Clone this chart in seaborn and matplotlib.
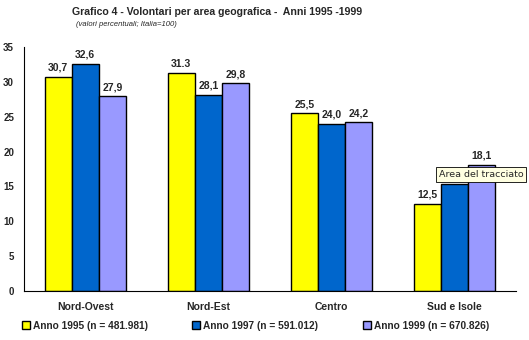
import matplotlib
matplotlib.use("Agg")
import matplotlib.pyplot as plt
import seaborn as sns
import pandas as pd
import numpy as np

categories = ["Nord-Ovest", "Nord-Est", "Centro", "Sud e Isole"]
series_names = ["Anno 1995 (n = 481.981)", "Anno 1997 (n = 591.012)", "Anno 1999 (n = 670.826)"]
v1995 = [30.7, 31.3, 25.5, 12.5]
v1997 = [32.6, 28.1, 24.0, 15.3]
v1999 = [27.9, 29.8, 24.2, 18.1]
labels1995 = ["30,7", "31.3", "25,5", "12,5"]
labels1997 = ["32,6", "28,1", "24,0", "15,3"]
labels1999 = ["27,9", "29,8", "24,2", "18,1"]
colors = ["#FFFF00", "#0066CC", "#9999FF"]

rows = []
for name, vals in zip(series_names, [v1995, v1997, v1999]):
    for c, v in zip(categories, vals):
        rows.append({"area": c, "serie": name, "valore": v})
df = pd.DataFrame(rows)

sns.set_style("white")
plt.rcParams["font.family"] = ["Liberation Sans", "DejaVu Sans"]

fig = plt.figure(figsize=(5.29, 3.40), dpi=100)
ax = fig.add_axes([0.045, 0.144, 0.93, 0.718])

sns.barplot(data=df, x="area", y="valore", hue="serie", order=categories,
            hue_order=series_names, palette=colors, width=0.66, gap=0,
            edgecolor="black", linewidth=1.0, saturation=1, ax=ax, legend=True)

ax.set_ylim(0, 35)
ax.set_xlim(-0.5, 3.5)
ax.set_yticks(np.arange(0, 36, 5))
ax.set_yticklabels([str(t) for t in range(0, 36, 5)], fontsize=7, fontweight="bold")
ax.set_xticks(range(4))
ax.set_xticklabels(categories, fontsize=7.5, fontweight="bold")
ax.set_xticks(np.arange(-0.5, 4.0, 1.0), minor=True)
ax.tick_params(axis="x", which="major", length=0, pad=8)
ax.tick_params(axis="x", which="minor", length=4, width=0.8, direction="out", color="black")
ax.tick_params(axis="y", length=4, width=0.8, direction="out", color="black", pad=3)
ax.set_xlabel("")
ax.set_ylabel("")
for s in ["top", "right"]:
    ax.spines[s].set_visible(False)
for s in ["left", "bottom"]:
    ax.spines[s].set_color("black")
    ax.spines[s].set_linewidth(0.8)

all_labels = [labels1995, labels1997, labels1999]
for cont, labs in zip(ax.containers, all_labels):
    ax.bar_label(cont, labels=labs, padding=3, fontsize=7.5, fontweight="bold")

handles, leg_labels = ax.get_legend_handles_labels()
ax.get_legend().remove()
fig.legend(handles, leg_labels, loc="lower center", bbox_to_anchor=(0.483, 0.0), ncol=3,
           frameon=False, prop={"weight": "bold", "size": 7.3},
           handlelength=0.8, handleheight=0.8, handletextpad=0.3, columnspacing=4.4)

fig.text(0.41, 0.965, "Grafico 4 - Volontari per area geografica -  Anni 1995 -1999",
         ha="center", va="center", fontsize=7.6, fontweight="bold")
fig.text(0.144, 0.927, "(valori percentuali; Italia=100)", ha="left", va="center",
         fontsize=5.5, style="italic")

fig.text(0.829, 0.487, "Area del tracciato", ha="left", va="center", fontsize=6.8,
         family="DejaVu Sans", zorder=10,
         bbox=dict(boxstyle="square,pad=0.3", facecolor="#FFFFE1", edgecolor="black", linewidth=0.6))

fig.savefig("out.png", dpi=100)
